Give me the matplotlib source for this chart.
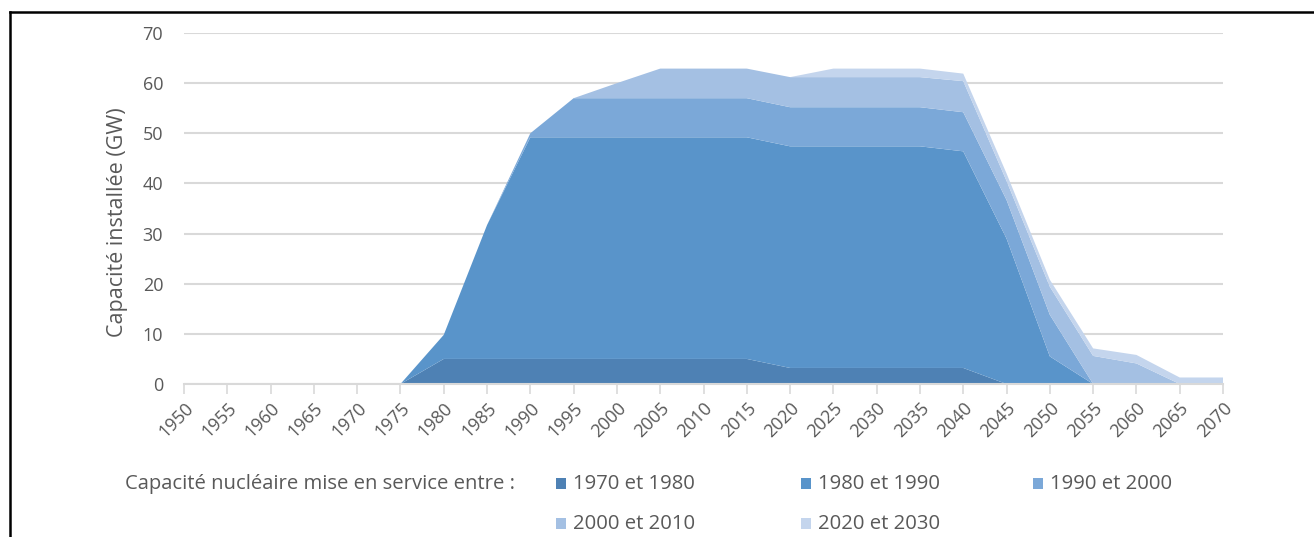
import numpy as np
import matplotlib.pyplot as plt
from matplotlib.patches import Rectangle
from matplotlib.lines import Line2D

plt.rcParams["font.family"] = ["Open Sans", "DejaVu Sans"]

# Years on the x axis (every 5 years)
years = list(range(1950, 2075, 5))

# Installed capacity (GW) by commissioning period
cap_1970_1980 = [0, 0, 0, 0, 0, 0, 5.0, 5.0, 5.0, 5.0, 5.0, 5.0, 5.0, 5.0,
                 3.2, 3.2, 3.2, 3.2, 3.2, 0, 0, 0, 0, 0, 0]
cap_1980_1990 = [0, 0, 0, 0, 0, 0, 4.8, 26.7, 44.2, 44.2, 44.2, 44.2, 44.2, 44.2,
                 44.2, 44.2, 44.2, 44.2, 43.2, 29.0, 5.5, 0, 0, 0, 0]
cap_1990_2000 = [0, 0, 0, 0, 0, 0, 0, 0, 0.8, 7.8, 7.8, 7.8, 7.8, 7.8,
                 7.8, 7.8, 7.8, 7.8, 7.8, 7.7, 8.3, 0, 0, 0, 0]
cap_2000_2010 = [0, 0, 0, 0, 0, 0, 0, 0, 0, 0, 3.0, 5.9, 5.9, 5.9,
                 6.0, 6.0, 6.0, 6.0, 6.2, 3.8, 5.6, 5.6, 4.1, 0, 0]
cap_2020_2030 = [0, 0, 0, 0, 0, 0, 0, 0, 0, 0, 0, 0, 0, 0,
                 0, 1.7, 1.7, 1.7, 1.5, 1.5, 1.4, 1.5, 1.7, 1.3, 1.3]

labels = ["1970 et 1980", "1980 et 1990", "1990 et 2000", "2000 et 2010", "2020 et 2030"]
colors = ["#4E81B4", "#5994CA", "#7BA8D8", "#A4C0E3", "#C4D5ED"]
series = [cap_1970_1980, cap_1980_1990, cap_1990_2000, cap_2000_2010, cap_2020_2030]

text_grey = "#595959"
grid_grey = "#D9D9D9"

fig = plt.figure(figsize=(13.14, 5.37), dpi=100)
ax = fig.add_axes([184 / 1314, 1 - 384 / 537, (1223 - 184) / 1314, (384 - 33) / 537])

ax.stackplot(years, *series, colors=colors, linewidth=0, zorder=2)

ax.set_xlim(1950, 2070)
ax.set_ylim(0, 70)
ax.set_yticks(range(0, 80, 10))
ax.set_xticks(years)
ax.set_xticklabels([str(y) for y in years], rotation=45, ha="right",
                   rotation_mode="anchor", fontsize=13, color=text_grey)
ax.tick_params(axis="y", length=0, labelsize=13, labelcolor=text_grey, pad=15)
ax.tick_params(axis="x", length=7, width=1.2, color=grid_grey, pad=4)
ax.grid(axis="y", color=grid_grey, linewidth=1.5, zorder=0)
ax.set_axisbelow(True)
for side in ["top", "right", "left"]:
    ax.spines[side].set_visible(False)
ax.spines["bottom"].set_color(grid_grey)
ax.spines["bottom"].set_linewidth(1.5)

ax.set_ylabel("Capacité installée (GW)", fontsize=15.5, color=text_grey)
ax.yaxis.set_label_coords((128 - 184) / 1039, 0.46)

# Legend, laid out like the original (title on the left, two rows)
fig.text(125 / 1314, 1 - 484 / 537, "Capacité nucléaire mise en service entre :",
         fontsize=14.6, color=text_grey, va="center", ha="left")
legend_pos = [(556, 484), (801, 484), (1033, 484), (556, 524), (801, 524)]
for (px, py), lab, col in zip(legend_pos, labels, colors):
    fig.patches.append(Rectangle((px / 1314, 1 - (py + 5) / 537), 10 / 1314, 11 / 537,
                                 transform=fig.transFigure, facecolor=col,
                                 edgecolor="none"))
    fig.text((px + 17) / 1314, 1 - py / 537, lab, fontsize=14.6, color=text_grey,
             va="center", ha="left")

# Black frame (top and left edges visible in the original crop)
fig.add_artist(Line2D([10 / 1314, 1], [1 - 12 / 537, 1 - 12 / 537],
                      transform=fig.transFigure, color="black", linewidth=1.8))
fig.add_artist(Line2D([10 / 1314, 10 / 1314], [0, 1 - 12 / 537],
                      transform=fig.transFigure, color="black", linewidth=1.8))

fig.savefig("out.png", dpi=100)
